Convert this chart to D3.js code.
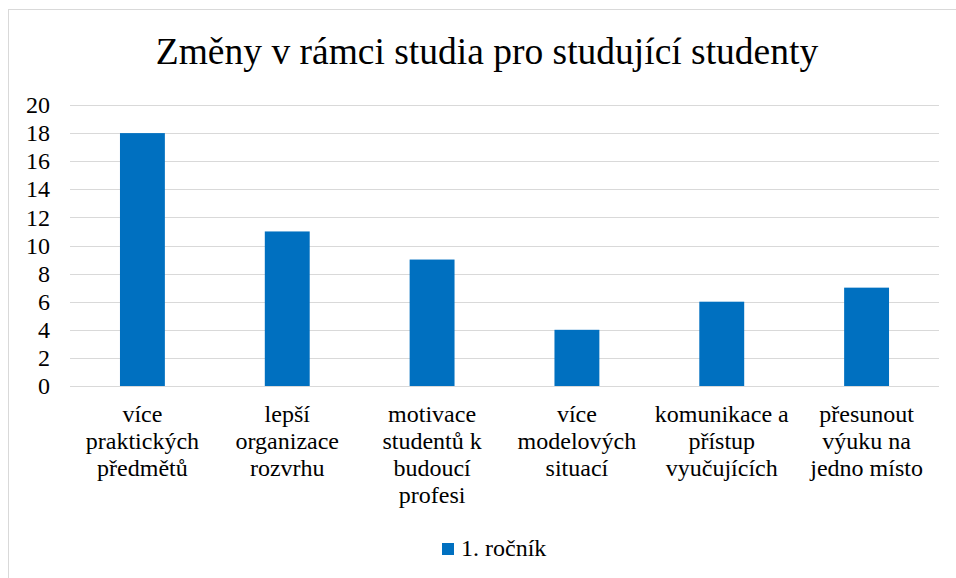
<!DOCTYPE html>
<html>
<head>
<meta charset="utf-8">
<script src="https://cdn.jsdelivr.net/npm/d3@7"></script>
<style>
  html, body { margin: 0; padding: 0; background: #fff; }
  svg { display: block; }
</style>
</head>
<body>
<svg id="chart" width="956" height="578"></svg>
<script>
const title = "Změny v rámci studia pro studující studenty";
const categories = [
  "více\npraktických\npředmětů",
  "lepší\norganizace\nrozvrhu",
  "motivace\nstudentů k\nbudoucí\nprofesi",
  "více\nmodelových\nsituací",
  "komunikace a\npřístup\nvyučujících",
  "přesunout\nvýuku na\njedno místo"
];
const seriesName = "1. ročník";
const values = [18, 11, 9, 4, 6, 7];
const yTicks = [0, 2, 4, 6, 8, 10, 12, 14, 16, 18, 20];

const FONT = "'Liberation Serif', 'Times New Roman', Times, serif";
const svg = d3.select("#chart");
const color = "#0070C0";
const grid = "#d9d9d9";

// chart border
svg.append("rect")
  .attr("x", 8.5).attr("y", 9.5)
  .attr("width", 960).attr("height", 600)
  .attr("fill", "#fff").attr("stroke", grid).attr("stroke-width", 1);

const plot = { left: 70, right: 939, top: 105, bottom: 386 };

const x = d3.scaleBand()
  .domain(categories)
  .range([plot.left, plot.right])
  .paddingInner(0.69)
  .paddingOuter(0.345);

const y = d3.scaleLinear()
  .domain([0, 20])
  .range([plot.bottom, plot.top]);

// title
svg.append("text")
  .attr("x", 487).attr("y", 64)
  .attr("text-anchor", "middle")
  .attr("font-family", FONT)
  .attr("font-size", 37.5)
  .attr("fill", "#000")
  .text(title);

// gridlines
svg.append("g")
  .selectAll("line")
  .data(yTicks)
  .join("line")
  .attr("x1", plot.left).attr("x2", plot.right)
  .attr("y1", d => Math.round(y(d)) + 0.5)
  .attr("y2", d => Math.round(y(d)) + 0.5)
  .attr("stroke", grid).attr("stroke-width", 1);

// y axis labels
const yAxis = d3.axisLeft(y).tickValues(yTicks).tickSize(0).tickPadding(0);
const yg = svg.append("g")
  .attr("transform", "translate(50,0)")
  .call(yAxis)
  .attr("font-family", FONT)
  .attr("font-size", 24);
yg.select(".domain").remove();
yg.selectAll("text")
  .attr("font-family", FONT)
  .attr("font-size", 24)
  .attr("fill", "#000");

// bars
svg.append("g")
  .selectAll("rect")
  .data(values)
  .join("rect")
  .attr("x", (d, i) => x(categories[i]))
  .attr("y", d => y(d))
  .attr("width", x.bandwidth())
  .attr("height", d => y(0) - y(d))
  .attr("fill", color);

// x axis line
svg.append("line")
  .attr("x1", plot.left).attr("x2", plot.right)
  .attr("y1", Math.round(y(0)) + 0.5).attr("y2", Math.round(y(0)) + 0.5)
  .attr("stroke", grid).attr("stroke-width", 1);

// category labels
const xg = svg.append("g")
  .attr("font-family", FONT)
  .attr("font-size", 24)
  .attr("fill", "#000");
categories.forEach(c => {
  const lines = c.split("\n");
  const t = xg.append("text")
    .attr("text-anchor", "middle");
  lines.forEach((ln, k) => {
    t.append("tspan")
      .attr("x", x(c) + x.bandwidth() / 2)
      .attr("y", 422 + k * 27)
      .text(ln);
  });
});

// legend
svg.append("rect")
  .attr("x", 442).attr("y", 543)
  .attr("width", 12).attr("height", 12)
  .attr("fill", color);
svg.append("text")
  .attr("x", 461).attr("y", 556)
  .attr("font-family", FONT)
  .attr("font-size", 24)
  .attr("fill", "#000")
  .text(seriesName);
</script>
</body>
</html>
